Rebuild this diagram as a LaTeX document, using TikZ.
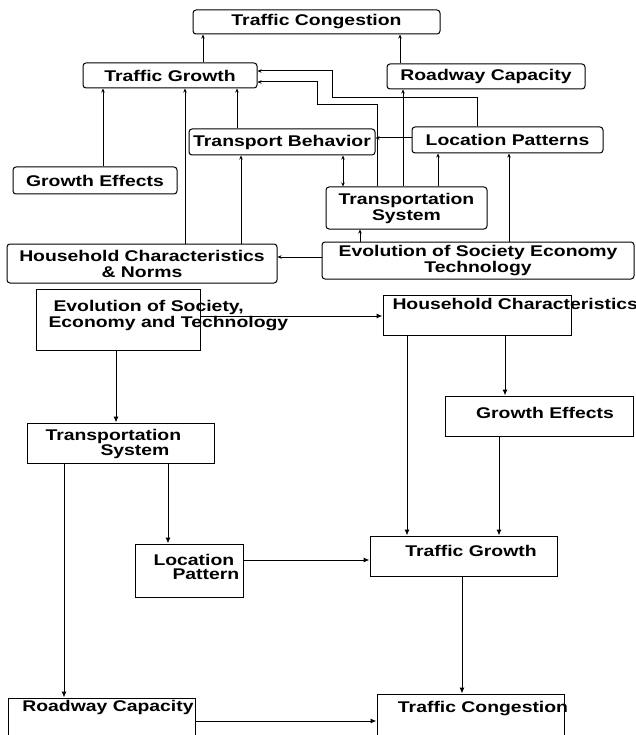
\documentclass[tikz,border=0pt]{standalone}
\usepackage{fontspec}
\setmainfont{Liberation Sans}[FakeStretch=1.25]
\usepackage{tikz}
\usetikzlibrary{arrows.meta}

\begin{document}
\begin{tikzpicture}[x=1pt,y=-1pt,line width=1pt,
  font=\bfseries\fontsize{15.5}{16}\selectfont,
  tbox/.style={draw,rounded corners=3pt,inner sep=0pt,align=center},
  bbox/.style={draw,inner sep=0pt},
  lbl/.style={inner sep=0pt,align=left},
  arr/.style={-{Stealth[length=4pt,width=3.5pt]}},
  barr/.style={-{Latex[length=6pt,width=5pt]}}]
\useasboundingbox (0,0) rectangle (636,735);
\clip (0,0) rectangle (636,735);
% upper picture
\node[tbox,minimum width=247pt,minimum height=24pt] (tTC) at (316.5,22) {Traffic Congestion};
\node[tbox,minimum width=174pt,minimum height=25pt] (tTG) at (170,75.5) {Traffic Growth};
\node[tbox,minimum width=198pt,minimum height=25pt] (tRC) at (486,76.5) {Roadway Capacity};
\node[tbox,minimum width=186pt,minimum height=26pt] (tTB) at (282,142) {Transport Behavior};
\node[tbox,minimum width=191pt,minimum height=26pt] (tLP) at (507.5,140) {Location Patterns};
\node[tbox,minimum width=164pt,minimum height=27pt] (tGE) at (95,180.5) {Growth Effects};
\node[tbox,minimum width=161pt,minimum height=42pt] (tTS) at (406.5,208) {Transportation\\System};
\node[tbox,minimum width=270pt,minimum height=39pt] (tHCN) at (142,263.5) {Household Characteristics\\\& Norms};
\node[tbox,minimum width=312pt,minimum height=37pt] (tES) at (478,260.5) {Evolution of Society Economy\\Technology};
\draw[arr] (203,0 |- tTG.north) -- (203,0 |- tTC.south);
\draw[arr] (400,0 |- tRC.north) -- (400,0 |- tTC.south);
\draw[arr] (103,0 |- tGE.north) -- (103,0 |- tTG.south);
\draw[arr] (185,0 |- tHCN.north) -- (185,0 |- tTG.south);
\draw[arr] (237,0 |- tTB.north) -- (237,0 |- tTG.south);
\draw[arr] (241,0 |- tHCN.north) -- (241,0 |- tTB.south);
\draw[arr] (477,0 |- tLP.north) -- (477,98) -- (332,98) -- (332,71) -- (tTG.east |- 0,71);
\draw[arr] (377,0 |- tTS.north) -- (377,105) -- (317,105) -- (317,82) -- (tTG.east |- 0,82);
\draw[arr] (403,0 |- tTS.north) -- (403,0 |- tRC.south);
\draw[arr] (438,0 |- tTS.north) -- (438,0 |- tLP.south);
\draw[arr] (tLP.west |- 0,138) -- (tTB.east |- 0,138);
\draw[{Stealth[length=4pt,width=3.5pt]}-{Stealth[length=4pt,width=3.5pt]}] (343,0 |- tTB.south) -- (343,0 |- tTS.north);
\draw[arr] (509,0 |- tES.north) -- (509,0 |- tLP.south);
\draw[arr] (360,0 |- tES.north) -- (360,0 |- tTS.south);
\draw[arr] (tES.west |- 0,257) -- (tHCN.east |- 0,257);
% lower picture
\node[bbox,minimum width=164pt,minimum height=61pt] (bES) at (118,319.5) {};
\node[bbox,minimum width=188pt,minimum height=40pt] (bHC) at (477,315) {};
\node[bbox,minimum width=188pt,minimum height=40pt] (bGE) at (539,416) {};
\node[bbox,minimum width=187pt,minimum height=40pt] (bTS) at (120.5,443) {};
\node[bbox,minimum width=108pt,minimum height=53pt] (bLP) at (189,570.5) {};
\node[bbox,minimum width=187pt,minimum height=40pt] (bTG) at (463.5,556) {};
\node[bbox,minimum width=187pt,minimum height=42pt] (bRC) at (101.5,719) {};
\node[bbox,minimum width=187pt,minimum height=44pt] (bTC) at (470.5,716) {};
\node[lbl,anchor=west] (lES) at (48,315.5) {\hspace*{5pt}Evolution of Society,\\Economy and Technology};
\node[lbl,anchor=west] (lHC) at (392,304) {Household Characteristics};
\node[lbl] (lGE) at (545,413) {Growth Effects};
\node[lbl,anchor=west,font=\bfseries\fontsize{15.5}{14}\selectfont] (lTS) at (45,444) {Transportation\\\hspace*{55pt}System};
\node[lbl,anchor=west,font=\bfseries\fontsize{15.5}{14}\selectfont] (lLP) at (153,566.5) {Location\\\hspace*{19pt}Pattern};
\node[lbl] (lTG) at (471,551) {Traffic Growth};
\node[lbl] (lTC) at (483,709) {Traffic Congestion};
\node[lbl] (lRC) at (108,707) {Roadway Capacity};
\draw[barr] (bES.east |- 0,316) -- (bHC.west |- 0,316);
\draw[barr] (116,0 |- bES.south) -- (116,0 |- bTS.north);
\draw[barr] (168,0 |- bTS.south) -- (168,0 |- bLP.north);
\draw[barr] (64,0 |- bTS.south) -- (64,0 |- bRC.north);
\draw[barr] (505,0 |- bHC.south) -- (505,0 |- bGE.north);
\draw[barr] (407,0 |- bHC.south) -- (407,0 |- bTG.north);
\draw[barr] (499,0 |- bGE.south) -- (499,0 |- bTG.north);
\draw[barr] (bLP.east |- 0,560) -- (bTG.west |- 0,560);
\draw[barr] (462,0 |- bTG.south) -- (462,0 |- bTC.north);
\draw[barr] (bRC.east |- 0,721) -- (bTC.west |- 0,721);
\end{tikzpicture}
\end{document}
